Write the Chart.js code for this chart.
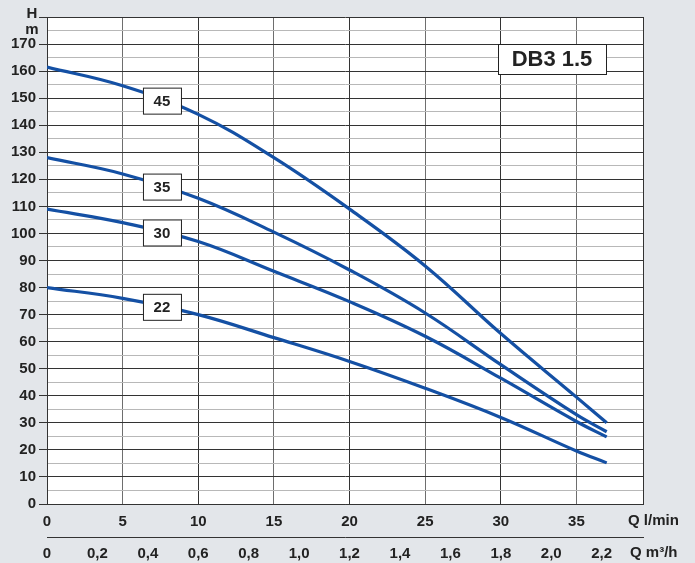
<!DOCTYPE html>
<html>
<head>
<meta charset="utf-8">
<script src="https://cdn.jsdelivr.net/npm/chart.js@4"></script>
<style>
  html, body { margin: 0; padding: 0; background: #e3e6ea; }
  #wrap { width: 695px; height: 563px; }
</style>
</head>
<body>
<div id="wrap"><canvas id="chart_db3"></canvas></div>
<script>
// flow in l/min, head in m
const flowLmin = [0, 5, 10, 15, 20, 25, 30, 35, 37]
const head45 = [161.5, 154.6, 144, 128, 109, 88, 63, 39.5, 30]
const head35 = [128, 122, 113, 100.5, 86.5, 70.6, 51.5, 33, 26.7]
const head30 = [109, 104, 97, 86, 74.8, 62, 46.5, 30.5, 24.8]
const head22 = [80, 76, 70, 61.5, 52.7, 42.8, 32, 19.6, 15.2]
const curveNames = ['45', '35', '30', '22']
const curveHeads = [head45, head35, head30, head22]
const labelFlow = 7.6
const modelName = 'DB3 1.5'

const font = "'Liberation Sans', Arial, sans-serif"
const blue = '#1450a4'
const dark = '#333333'

function headAt(heads, q) {
    for (let i = 1; i < flowLmin.length; i++) {
        if (q <= flowLmin[i]) {
            let t = (q - flowLmin[i - 1]) / (flowLmin[i] - flowLmin[i - 1])
            return heads[i - 1] + t * (heads[i] - heads[i - 1])
        }
    }
    return heads[heads.length - 1]
}

const decor = {
    id: 'decor',
    beforeDraw(chart) {
        const {ctx, chartArea: a} = chart
        ctx.save()
        ctx.fillStyle = '#ffffff'
        ctx.fillRect(a.left, a.top, a.right - a.left, a.bottom - a.top)
        ctx.restore()
    },
    afterDraw(chart) {
        const {ctx, chartArea: a, scales} = chart
        ctx.save()
        ctx.strokeStyle = dark
        ctx.lineWidth = 1
        ctx.beginPath()
        ctx.moveTo(a.right + 0.5, a.top)
        ctx.lineTo(a.right + 0.5, a.bottom)
        ctx.stroke()

        // curve labels
        ctx.font = "bold 15px " + font
        ctx.textAlign = 'center'
        ctx.textBaseline = 'middle'
        curveNames.forEach((name, i) => {
            let x = scales.x.getPixelForValue(labelFlow)
            let y = scales.y.getPixelForValue(headAt(curveHeads[i], labelFlow))
            ctx.fillStyle = '#fff'
            ctx.fillRect(x - 19, y - 13, 38, 26)
            ctx.strokeStyle = '#222'
            ctx.strokeRect(x - 19 + 0.5, y - 13 + 0.5, 38, 26)
            ctx.fillStyle = '#222'
            ctx.fillText(name, x, y + 1)
        })

        // model box
        ctx.fillStyle = '#fff'
        ctx.fillRect(498, 44, 108, 30)
        ctx.strokeStyle = '#222'
        ctx.strokeRect(498.5, 44.5, 108, 30)
        ctx.fillStyle = '#222'
        ctx.font = "bold 22px " + font
        ctx.fillText(modelName, 552, 60)

        // axis units
        ctx.font = "bold 15px " + font
        ctx.fillText('H', 32, 14)
        ctx.fillText('m', 32, 30)
        ctx.textAlign = 'left'
        ctx.fillText('Q l/min', 628, 521)
        ctx.fillText('Q m³/h', 630, 553)
        ctx.restore()
    }
}

const ctx = document.getElementById('chart_db3').getContext('2d')
window.myChart = new Chart(ctx, {
    type: 'line',
    data: {
        datasets: curveHeads.map((heads) => ({
            data: flowLmin.map((q, i) => ({x: q, y: heads[i]})),
            borderColor: blue,
            borderWidth: 3.2,
            pointRadius: 0,
            fill: false,
            tension: 0.4
        }))
    },
    options: {
        responsive: true,
        maintainAspectRatio: false,
        animation: false,
        layout: { padding: { top: 17, right: 52, left: 0, bottom: 0 } },
        plugins: { legend: { display: false }, tooltip: { enabled: false } },
        scales: {
            x: {
                type: 'linear',
                min: 0,
                max: 39.4,
                afterFit: (s) => { s.height = 33 },
                ticks: {
                    stepSize: 5,
                    maxTicksLimit: 100,
                    includeBounds: false,
                    padding: 9,
                    color: '#222',
                    font: { family: font, size: 15, weight: 'bold' }
                },
                grid: {
                    color: (c) => (c.tick && c.tick.value % 10 === 0) ? dark : '#6e6e6e',
                    lineWidth: 1,
                    drawTicks: false
                },
                border: { color: dark }
            },
            x2: {
                type: 'linear',
                position: 'bottom',
                min: 0,
                max: 39.4 * 0.06,
                afterFit: (s) => { s.height = 26 },
                ticks: {
                    stepSize: 0.2,
                    maxTicksLimit: 100,
                    includeBounds: false,
                    padding: 8,
                    color: '#222',
                    font: { family: font, size: 15, weight: 'bold' },
                    callback: (v) => v === 0 ? '0' : v.toFixed(1).replace('.', ',')
                },
                grid: { drawOnChartArea: false, drawTicks: false, color: 'rgba(0,0,0,0)' },
                border: { display: true, color: dark, width: 1 }
            },
            y: {
                min: 0,
                max: 180,
                afterFit: (s) => { s.width = 47 },
                ticks: {
                    stepSize: 5,
                    maxTicksLimit: 100,
                    autoSkip: false,
                    includeBounds: false,
                    padding: 3,
                    color: '#222',
                    font: { family: font, size: 15, weight: 'bold' },
                    callback: (v) => (v % 10 === 0 && v < 180) ? v : ''
                },
                grid: {
                    color: (c) => (c.tick && c.tick.value % 10 === 0) ? dark : '#b8b8b8',
                    tickColor: (c) => (c.tick && c.tick.value % 10 === 0) ? dark : 'rgba(0,0,0,0)',
                    lineWidth: 1,
                    tickLength: 8
                },
                border: { color: dark }
            }
        }
    },
    plugins: [decor]
})
</script>
</body>
</html>
